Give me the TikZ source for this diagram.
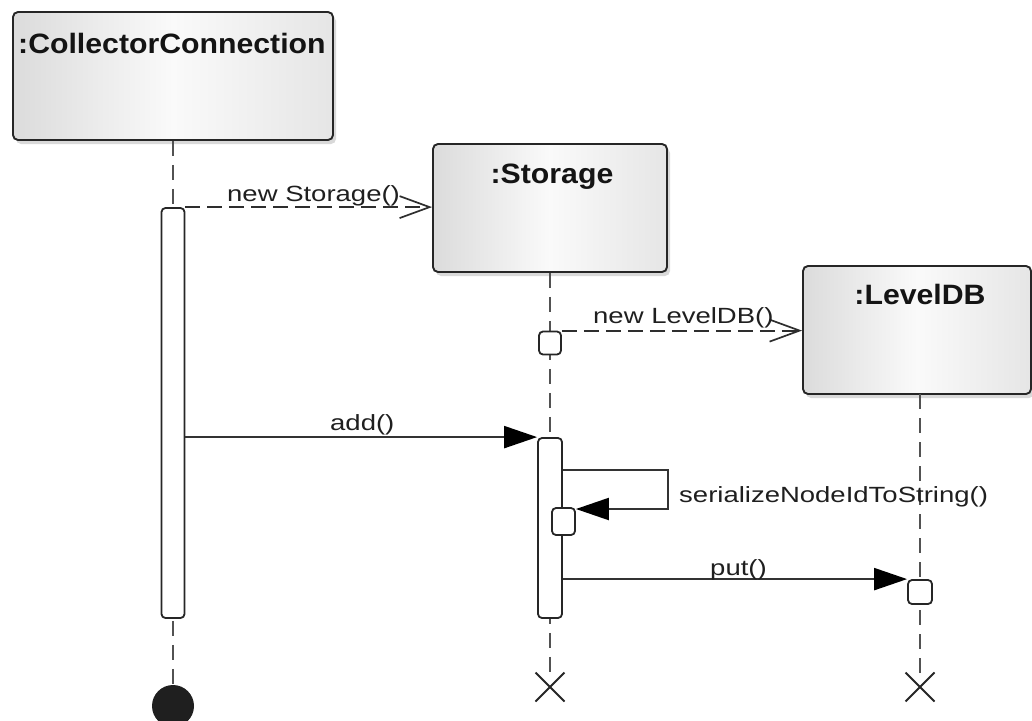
\documentclass[tikz,border=0pt]{standalone}
\usepackage{fontspec}
\setmainfont[FakeStretch=1.25]{Liberation Sans}
\newfontfamily\headfont[FakeStretch=1.08]{Liberation Sans}
\usetikzlibrary{arrows.meta,shadows,shapes.misc}

\begin{document}
\begin{tikzpicture}[x=1pt,y=-1pt,
  lifebox/.style={draw=black!85, line width=1.9pt, rounded corners=5pt,
    left color=black!14, right color=black!10, middle color=black!2,
    drop shadow={shadow xshift=3pt,shadow yshift=-4pt,opacity=0.3,fill=black!50},
    inner sep=0pt},
  headtext/.style={font=\headfont\bfseries\fontsize{28}{32}\selectfont, text=black!92, inner sep=0pt},
  msgtext/.style={font=\fontsize{22}{26}\selectfont, text=black!88, inner sep=0pt},
  lifeline/.style={draw=black!68, line width=2.6pt, dash pattern=on 15pt off 9pt},
  actbox/.style={draw=black!85, line width=1.8pt, fill=white, rounded corners=4pt, inner sep=0pt},
  endmark/.style={draw=black!85, cross out, line width=2pt, minimum size=27pt, inner sep=0pt},
  call/.style={draw=black!80, line width=2.2pt, -{Triangle[length=33pt,width=22pt,color=black]}},
  create/.style={draw=black!82, line width=2pt, dash pattern=on 15pt off 7pt,
    -{Straight Barb[length=30pt,width=22pt,line width=1.7pt]}},
  ]
\useasboundingbox (0,0) rectangle (1032,720);

% participant heads
\node[lifebox, minimum width=320pt, minimum height=128pt] (cc) at (173,76) {};
\node[lifebox, minimum width=234pt, minimum height=128pt] (st) at (550,208) {};
\node[lifebox, minimum width=228pt, minimum height=128pt] (ld) at (917,330) {};

\node[headtext, anchor=base west] (cct) at (18,53) {:CollectorConnection};
\node[headtext, anchor=base] (stt) at (552,183) {:Storage};
\node[headtext, anchor=base] (ldt) at (920,304) {:LevelDB};

% ends of the lifelines
\node[circle, fill=black!88, minimum size=42pt, inner sep=0pt] (ccfin) at (173,706) {};
\node[endmark] (stx) at (550,687) {};
\node[endmark] (ldx) at (920,687) {};
\coordinate (ldtop) at (920,394);

% lifelines
\draw[lifeline] (cc.south) -- (ccfin.north);
\draw[lifeline] (st.south) -- (stx.north);
\draw[lifeline] (ldtop) -- (ldx.north);

% execution specifications
\node[actbox, minimum width=23pt, minimum height=410pt] (cca) at (173,413) {};
\node[actbox, minimum width=24pt, minimum height=180pt] (sta) at (550,528) {};
\node[actbox, minimum width=22pt, minimum height=23pt] (stc) at (550,343) {};
\node[actbox, minimum width=23pt, minimum height=27pt] (stn) at (563.5,521.5) {};
\node[actbox, minimum width=24pt, minimum height=24pt] (ldp) at (920,592) {};

% messages
\draw[create] (cca.north east) -- (cca.north east -| st.west);
\draw[create] (stc.north east) -- (stc.north east -| ld.west);
\draw[call] (cca.east |- sta.north) -- (sta.north west);
\coordinate (selfA) at (668,470);
\coordinate (selfB) at (668,509);
\draw[call] (sta.east |- selfA) -- (selfA) -- (selfB) -- (stn.east |- selfB);
\draw[call] (sta.east |- ldp.north) -- (ldp.north west);

% message labels
\node[msgtext, anchor=base west] (l1) at (227,201) {new Storage()};
\node[msgtext, anchor=base west] (l2) at (593,323) {new LevelDB()};
\node[msgtext, anchor=base west] (l3) at (330,430) {add()};
\node[msgtext, anchor=base west] (l4) at (679,502) {serializeNodeIdToString()};
\node[msgtext, anchor=base west] (l5) at (710,575) {put()};
\end{tikzpicture}
\end{document}
